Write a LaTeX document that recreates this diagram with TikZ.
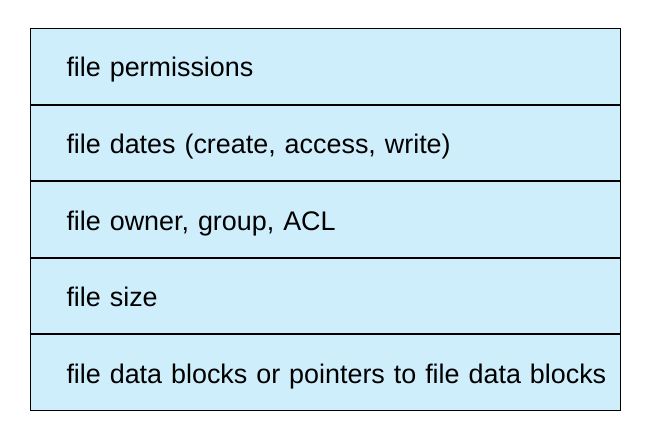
\documentclass[tikz,border=0pt]{standalone}
\usepackage{fontspec}
\setmainfont{Liberation Sans}
\usetikzlibrary{positioning}
\definecolor{rowblue}{HTML}{CFEEFB}
\tikzset{
    attrrow/.style={draw=black, fill=rowblue, line width=1pt,
        minimum width=590pt, minimum height=75.6pt,
        text width=590pt, align=left, inner xsep=0pt, inner ysep=0pt,
        text height=27pt, text depth=6pt,
        execute at begin node={\hspace*{36pt}},
        font=\fontsize{26.9}{30}\selectfont}
}
\begin{document}
\begin{tikzpicture}[x=1pt,y=1pt]
\useasboundingbox (0,0) rectangle (650,-447);

% ==== attribute rows ====
\node[attrrow, anchor=north west] (perm) at (30,-28) {file permissions};
\node[attrrow, below=0pt of perm] (dates) {file dates (create, access, write)};
\node[attrrow, below=0pt of dates] (owner) {file owner, group, ACL};
\node[attrrow, below=0pt of owner] (size) {file size};
\node[attrrow, below=0pt of size] (blocks) {file data blocks or pointers to file data blocks};

\end{tikzpicture}
\end{document}
